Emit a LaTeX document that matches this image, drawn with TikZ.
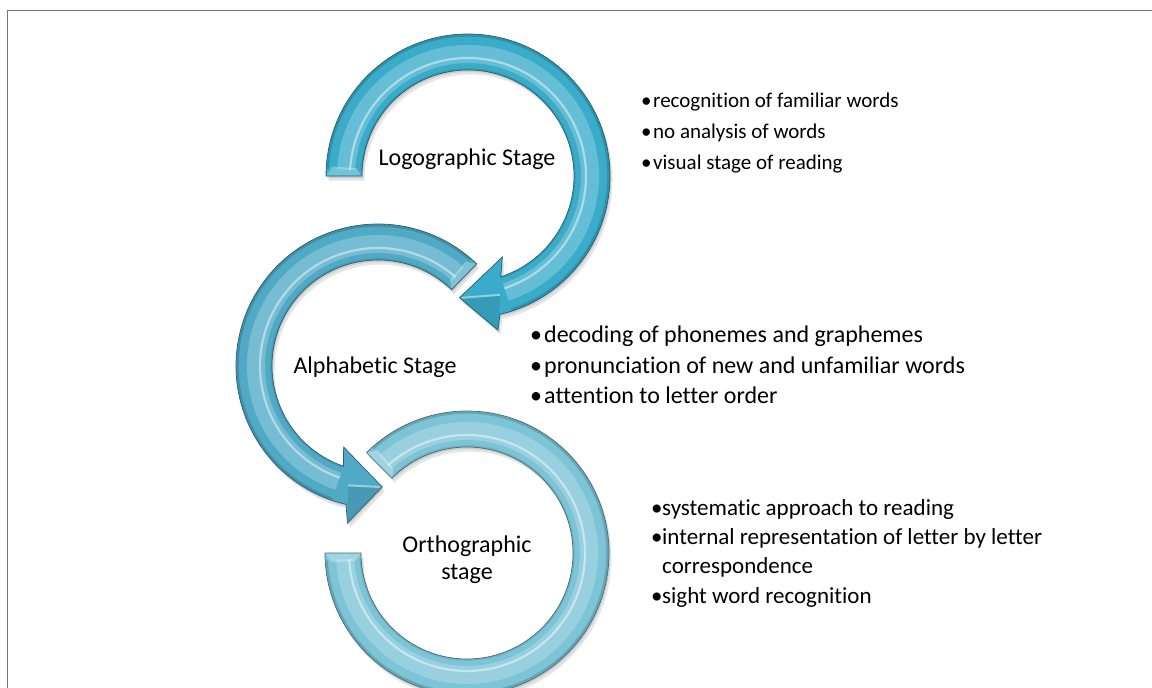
\documentclass[tikz,border=0pt]{standalone}
\usepackage{fontspec}
\setmainfont{Carlito}[Ligatures={NoCommon}]

\definecolor{logoblue}{RGB}{58,172,202}
\definecolor{alphablue}{RGB}{80,170,198}
\definecolor{orthoblue}{RGB}{124,196,214}
\definecolor{framegray}{RGB}{118,118,118}

% Outlines of the three circular arrows, each drawn around its own centre
\newcommand{\logoshape}[1]{\path[#1] (180:142) arc[start angle=180, end angle=-77, radius=142]
  -- (-79:157) -- (-94:122) -- (-67:88) -- (-72:106)
  arc[start angle=-72, end angle=180, radius=106] -- cycle;}
\newcommand{\alphashape}[1]{\path[#1] (46:142) arc[start angle=46, end angle=257, radius=142]
  -- (259:160) -- (272:121) -- (247:88) -- (251:106)
  arc[start angle=251, end angle=46, radius=106] -- cycle;}
\newcommand{\orthoshape}[1]{\path[#1] (135:142) arc[start angle=135, end angle=-180, radius=142]
  -- (180:106) arc[start angle=-180, end angle=135, radius=106] -- cycle;}

% Bevel lights along the band between two angles
\newcommand{\bandlights}[3]{%
  \path[fill=white, opacity=.22] (#1:113) arc[start angle=#1, end angle=#2, radius=113]
    -- (#2:131) arc[start angle=#2, end angle=#1, radius=131] -- cycle;
  \draw[white, opacity=.45, line width=2.2pt] (#1:118) arc[start angle=#1, end angle=#2, radius=118];
  \draw[#3!65!black, opacity=.45, line width=2.4pt] (#1:140.5) arc[start angle=#1, end angle=#2, radius=140.5];
  \draw[#3!75!black, opacity=.35, line width=1.6pt] (#1:107) arc[start angle=#1, end angle=#2, radius=107];}

\begin{document}
\begin{tikzpicture}[x=1pt, y=1pt,
  stagelabel/.style={font=\fontsize{24}{27}\selectfont, inner sep=0pt, text=black},
  pointitem/.style={font=\fontsize{#1}{26}\selectfont, inner sep=0pt, anchor=base west, text=black},
  pointitem/.default=21,
  framerule/.style={draw=framegray, line width=1.6pt},
  softshadow/.style={fill=black, opacity=.10},
  edgeline/.style={draw=#1!55!black, line width=.7pt},
  facet/.style={fill=white, opacity=.28},
]
\useasboundingbox (0,0) rectangle (1152,-688);
\clip (0,0) rectangle (1152,-688);
\fill[white] (0,0) rectangle (1152,-688);

% page frame
\draw[framerule] (7.5,-688) -- (7.5,-10.5) -- (1152,-10.5);

% Orthographic ring
\begin{scope}[shift={(467,-553)}]
  \orthoshape{softshadow, shift={(1,-2)}}
  \orthoshape{softshadow, shift={(2.5,-4.5)}}
  \orthoshape{fill=orthoblue}
  \bandlights{132}{-177}{orthoblue}
  \path[facet] (135:106) -- (135:142) -- (131:136) -- (131:112) -- cycle;
  \path[facet] (180:106) -- (180:142) -- (-176:136) -- (-176:112) -- cycle;
  \orthoshape{edgeline=orthoblue}
\end{scope}

% Alphabetic arrow
\begin{scope}[shift={(378,-366)}]
  \alphashape{softshadow, shift={(1,-2)}}
  \alphashape{softshadow, shift={(2.5,-4.5)}}
  \alphashape{fill=alphablue}
  \bandlights{49}{251}{alphablue}
  \path[facet] (46:106) -- (46:142) -- (50:136) -- (50:112) -- cycle;
  \path[fill=alphablue!70!black, opacity=.3] (272:121) -- (259:160) -- (256:124) -- cycle;
  \draw[white, opacity=.45, line width=2pt] (271:121) -- (256:123);
  \alphashape{edgeline=alphablue}
\end{scope}

% Logographic arrow
\begin{scope}[shift={(468,-176)}]
  \logoshape{softshadow, shift={(1,-2)}}
  \logoshape{softshadow, shift={(2.5,-4.5)}}
  \logoshape{fill=logoblue}
  \bandlights{177}{-72}{logoblue}
  \path[facet] (180:106) -- (180:142) -- (176:136) -- (176:112) -- cycle;
  \path[fill=logoblue!70!black, opacity=.3] (-94:122) -- (-79:157) -- (-75:124) -- cycle;
  \draw[white, opacity=.45, line width=2pt] (-93:122) -- (-75:123);
  \logoshape{edgeline=logoblue}
\end{scope}

% stage names
\node[stagelabel, anchor=base] (logo) at (467,-165) {Logographic Stage};
\node[stagelabel, anchor=base] (alpha) at (375,-373) {Alphabetic Stage};
\node[stagelabel, align=center] (ortho) at (467,-560) {Orthographic\\stage};

% features of the logographic stage
\node[pointitem] (logoA) at (641,-107) {\makebox[12pt][l]{•}recognition of familiar words};
\node[pointitem] (logoB) at (641,-138) {\makebox[12pt][l]{•}no analysis of words};
\node[pointitem] (logoC) at (641,-169) {\makebox[12pt][l]{•}visual stage of reading};

% features of the alphabetic stage
\node[pointitem=24] (alphaA) at (530,-342) {\makebox[14pt][l]{•}decoding of phonemes and graphemes};
\node[pointitem=24] (alphaB) at (530,-373) {\makebox[14pt][l]{•}pronunciation of new and unfamiliar words};
\node[pointitem=24] (alphaC) at (530,-403) {\makebox[14pt][l]{•}attention to letter order};

% features of the orthographic stage
\node[pointitem=23] (orthoA) at (651,-515) {\makebox[11pt][l]{•}systematic approach to reading};
\node[pointitem=23] (orthoB) at (651,-544) {\makebox[11pt][l]{•}internal representation of letter by letter};
\node[pointitem=23] (orthoC) at (662,-573) {correspondence};
\node[pointitem=23] (orthoD) at (651,-603) {\makebox[11pt][l]{•}sight word recognition};
\end{tikzpicture}
\end{document}
